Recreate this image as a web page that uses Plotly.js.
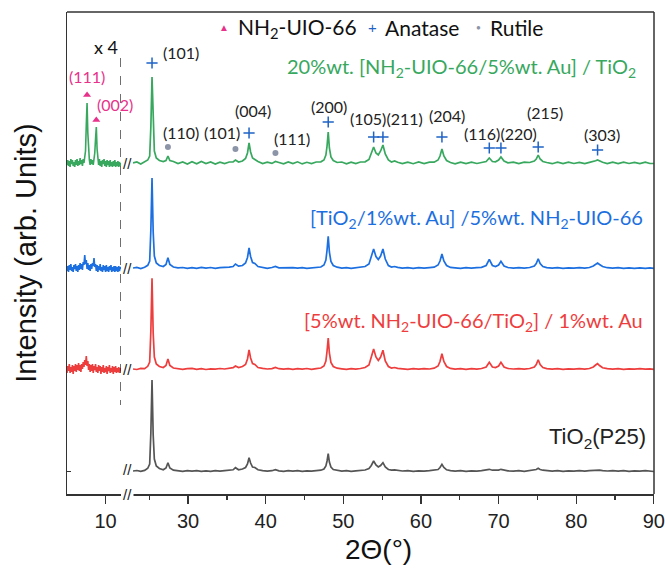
<!DOCTYPE html>
<html><head><meta charset="utf-8">
<script src="https://cdn.plot.ly/plotly-3.0.1.min.js"></script>
<style>html,body{margin:0;padding:0;background:#fff}#chart{width:665px;height:569px}</style>
</head><body><div id="chart"></div>
<script>
// ---------- data ----------
const seriesNames = ['TiO<sub>2</sub>(P25)', '[5%wt. NH<sub>2</sub>-UIO-66/TiO<sub>2</sub>] / 1%wt. Au', '[TiO<sub>2</sub>/1%wt. Au] /5%wt. NH<sub>2</sub>-UIO-66', '20%wt. [NH<sub>2</sub>-UIO-66/5%wt. Au] / TiO<sub>2</sub>'];

// low-angle segment (5-12 deg, intensity x4)
const xLeft = [5.0,5.1,5.2,5.3,5.4,5.5,5.6,5.7,5.8,5.9,6.0,6.1,6.2,6.3,6.4,6.5,6.6,6.7,6.8,6.9,7.0,7.1,7.2,7.3,7.4,7.5,7.6,7.7,7.8,7.9,8.0,8.1,8.2,8.3,8.4,8.5,8.6,8.7,8.8,8.9,9.0,9.1,9.2,9.3,9.4,9.5,9.6,9.7,9.8,9.9,10.0,10.1,10.2,10.3,10.4,10.5,10.6,10.7,10.8,10.9,11.0,11.1,11.2,11.3,11.4,11.5,11.6,11.7,11.8,11.9,12.0];
const greenLeft = [-2,3,-3,2,-4,4,-1,3,-3,1, -4,3,-2,4,-3,2,-2,5,-1,3, -3,4,0,5,12,38,60,30,8,3, -2,4,-1,3,-2,4,10,24,36,14, 3,-2,4,-3,2,-4,3,-1,4,-3, 2,-4,3,-2,2,-4,3,-3,1,-4, 2,-3,3,-4,1,-3,2,-4,1,-3, 0];
const blueLeft = [-3,2,-4,3,-2,4,-3,1,-4,3, -1,4,-3,2,-4,3,-2,5,-1,4, -2,6,3,13,4,8,-1,5,-2,3, -3,4,-1,5,2,10,1,4,-3,3, -4,2,-2,4,-3,1,-4,3,-2,2, -4,3,-3,1,-4,2,-2,3,-4,1, -3,2,-4,2,-3,1,-4,2,-3,1, -1];
const redLeft = [-4,3,-2,5,-4,2,-3,4,-5,3, -2,5,-3,4,-1,6,-2,4,-3,5, 0,7,2,9,4,13,3,8,-1,5, -3,4,-2,5,-4,3,-1,5,-3,2, -4,4,-2,3,-5,2,-3,4,-4,1, -3,3,-5,2,-2,4,-4,1,-3,3, -5,2,-3,3,-4,1,-3,2,-4,1, -2];

// main segment (22.9-90 deg)
const xRight = [22.9,23.4,23.9,24.4,24.8,25.05,25.2,25.35,25.5,25.65,
 25.9,26.3,26.8,27.15,27.4,27.65,28.1,28.7,29.3,29.9,
 30.5,31.1,31.7,32.3,32.9,33.5,34.1,34.7,35.3,35.8,
 36.1,36.5,37.0,37.4,37.65,37.85,38.05,38.3,38.6,39.0,
 39.6,40.2,40.8,41.25,41.7,42.3,42.9,43.5,44.1,44.7,
 45.3,45.9,46.5,47.1,47.5,47.75,47.9,48.05,48.2,48.4,
 48.7,49.2,49.8,50.4,51.0,51.6,52.2,52.8,53.3,53.6,
 53.9,54.2,54.5,54.8,55.1,55.4,55.8,56.2,56.6,57.0,
 57.6,58.3,59.0,59.7,60.4,61.1,61.7,62.2,62.45,62.7,
 62.95,63.3,63.8,64.4,65.1,65.8,66.5,67.2,67.8,68.4,
 68.8,69.2,69.6,70.0,70.3,70.7,71.2,71.9,72.6,73.3,
 74.0,74.6,74.85,75.1,75.35,75.7,76.2,76.9,77.6,78.3,
 79.0,79.7,80.4,81.1,81.7,82.2,82.5,82.75,83.0,83.4,
 84.0,84.7,85.4,86.1,86.8,87.5,88.2,88.9,89.5,90.0];
const grayRight = [0,0.5,-0.4,0.6,2.7,7,38,91,36,12,
 5,2.5,1.2,3,8.3,3,0.8,0.3,-0.3,0.4,
 -0.2,0.3,-0.4,0.2,-0.3,0.4,-0.2,0.3,0.5,1.2,
 3.3,1.2,2,3.5,7,13.3,8,4,3.5,1.2,
 0.3,-0.2,0.3,1.3,0.2,-0.3,0.3,-0.2,0.4,-0.3,
 0.2,-0.2,0.4,0.8,2,5,10,17.3,9,4,
 1.5,0.5,-0.2,0.3,-0.3,0.2,0.4,1,2.5,5.5,
 10,6,4,5.5,8.3,4,1.5,0.8,1.2,0.5,
 0,0.3,-0.3,0.2,-0.2,0.3,0.6,1.5,3.5,6.7,
 3.5,1.2,0.3,-0.2,0.3,-0.3,0.2,-0.2,0.3,0.8,
 1.7,0.8,0.5,0.9,1.7,0.7,0.2,-0.2,0.3,-0.3,
 0.3,0.8,1.5,2.7,1.5,0.8,0.2,-0.2,0.3,-0.3,
 0.2,-0.2,0.3,-0.2,0.3,0.6,1,1.3,0.9,0.4,
 0,0.3,-0.2,0.3,-0.3,0.2,-0.2,0.3,-0.3,-0.5];
const redRight = [0,-0.5,0.6,0.3,2.7,7,38,90.7,36,12,
 5,2.5,1.5,3.5,10,3.5,1,0.5,-0.4,0.3,
 0.6,-0.3,0.4,-0.5,0.2,-0.2,0.5,0,0.6,1.3,
 3,1.5,2.5,4.5,10,19,11,5.5,4.5,1.5,
 0.6,0,0.4,1.5,0.3,-0.2,0.4,-0.4,0.3,-0.2,
 0.5,-0.3,0.4,1,3,8,18,31,16,6.5,
 2.5,0.8,0.2,-0.3,0.4,-0.2,0.5,1.5,4,11,
 20,12,8.5,12,18.7,8,2.5,1,1.5,0.6,
 0.3,-0.3,0.3,-0.2,0.4,0,0.8,3,7.5,15.3,
 7.5,2.5,0.6,-0.2,0.3,-0.3,0.4,-0.2,0.5,2,
 6.7,2,1.5,3,6.7,2,0.5,0,0.3,-0.2,
 0.5,2,4.5,9.3,4.5,1.5,0.4,-0.2,0.3,-0.3,
 0.2,-0.2,0.3,-0.2,0.5,2,4,5.3,3.5,1.2,
 0.3,-0.2,0.3,-0.3,0.2,-0.2,0.3,-0.2,0.2,-0.3];
const blueRight = [0,0.6,-0.5,0.7,2.7,7,38,90,36,12,
 5,2.5,1.5,3.5,10.3,3.5,1,0.2,0.5,-0.4,
 0.4,-0.3,0.6,-0.2,0.5,-0.4,0.3,0.2,0.8,1.5,
 4,1.8,2.5,5,10.5,20,11.5,5.5,4.5,1.5,
 0.4,-0.3,0.5,1.5,0.2,0.3,-0.3,0.4,-0.2,0.3,
 -0.4,0.2,0.5,1,3,8,18,31.7,16,6.5,
 2.5,0.8,-0.2,0.4,-0.3,0.3,0.5,1.5,4,10.5,
 19,11.5,8.5,12,19,9,2.5,1,1.5,0.6,
 -0.2,0.3,-0.3,0.4,-0.2,0.3,0.8,3,7,14,
 7,2.5,0.6,0.2,-0.3,0.3,-0.2,0.3,0.6,2.5,
 8.7,2.5,1.5,3,6.7,2,0.5,-0.2,0.3,-0.2,
 0.5,2,4.5,9.3,4.5,1.5,0.4,-0.2,0.3,-0.3,
 0.2,-0.2,0.3,-0.2,0.5,2,4,5,3.5,1.5,
 0.3,-0.2,0.3,-0.3,0.2,-0.3,0.2,-0.3,0.2,-0.4];
const greenRight = [0,1,-1,1.5,3,7,36,86,34,12,
 5,2.5,1.5,2.5,7,2.5,1.5,-0.5,1,-1,
 1.2,-0.8,1.5,-0.6,1,-1,0.8,-0.5,1,1.2,
 3,1,2,4.5,10,20,11,5,3.5,1.5,
 -0.5,0.8,-0.4,1.5,0.5,-0.8,1,-0.6,1.2,-0.9,
 0.7,-0.5,1,1.2,3,8,17,31,15,6,
 2.5,0.5,1,-0.8,0.9,-0.6,1,1.2,3.5,9,
 16,10,8,12,18,9,3,1,2,0.8,
 -0.6,0.9,-0.7,1,-0.5,0.8,0.8,3,7,14,
 7,2.5,0.5,-0.8,0.9,-0.6,0.8,-0.5,0.6,1.5,
 5,1.5,1.2,3,6,2,0.2,0.8,-0.6,0.8,
 0.5,2,4,8,4,1.5,0.5,-0.7,0.8,-0.6,
 0.9,-0.5,0.7,-0.6,0.6,1.2,2.2,3,2,0.8,
 -0.5,0.8,-0.6,0.9,-0.5,0.7,-0.6,0.8,-0.5,-0.5];

// reflection markers
const uioX = [7.6, 8.8];           const uioY = [376, 351];
const uioLabels = ['(111)', '(002)'];
const anataseX = [25.35, 37.85, 48.05, 53.9, 55.1, 62.7, 68.8, 70.3, 75.1, 82.75];
const anataseY = [408, 338, 349, 334, 334, 334, 323, 323, 324, 321];
const rutileX = [27.4, 36.1, 41.25];
const rutileY = [324, 322, 318];
const legendNames = ['NH<sub>2</sub>-UIO-66', 'Anatase', 'Rutile'];
const xTicks = [30, 40, 50, 60, 70, 80, 90];

// ---------- layout helpers ----------
const L = 67, R = 11, T = 12, B = 75, W = 665, H = 569;
const PW = W - L - R, PH = H - T - B;
const px = x => (x - L) / PW;
const py = y => (H - B - y) / PH;

const cGreen = '#37a85e', cBlue = '#1c6fe0', cRed = '#ee3d3d', cGray = '#555555';
const cMag = '#e8318a', cAna = '#1f63c6', cRut = '#8c95a8';
const offsets = [0, 102, 203, 308];
const colors = [cGray, cRed, cBlue, cGreen];
const rights = [grayRight, redRight, blueRight, greenRight];
const lefts = [null, redLeft, blueLeft, greenLeft];

const traces = [];
for (let i = 0; i < 4; i++) {
  if (lefts[i]) traces.push({x: xLeft, y: lefts[i].map(v => v + offsets[i]), xaxis: 'x', yaxis: 'y', mode: 'lines', line: {color: colors[i], width: 1.6}, showlegend: false, hoverinfo: 'skip'});
  traces.push({x: xRight, y: rights[i].map(v => v + offsets[i]), xaxis: 'x2', yaxis: 'y', mode: 'lines', line: {color: colors[i], width: 1.7}, name: seriesNames[i], showlegend: false});
}
traces.push({x: uioX, y: uioY, xaxis: 'x', yaxis: 'y', mode: 'markers', marker: {symbol: 'triangle-up', size: 7, color: cMag}, showlegend: false});
traces.push({x: anataseX, y: anataseY, xaxis: 'x2', yaxis: 'y', mode: 'markers', marker: {symbol: 'cross-thin', size: 8, line: {color: cAna, width: 1.5}}, showlegend: false});
traces.push({x: rutileX, y: rutileY, xaxis: 'x2', yaxis: 'y', mode: 'markers', marker: {symbol: 'circle', size: 6, color: cRut}, showlegend: false});

const lab = 'Lato, "Open Sans", sans-serif';
const ari = '"Liberation Sans", Arial, sans-serif';
const ann = [];
function A(text, x, y, o) { ann.push(Object.assign({text, x: px(x), y: py(y), xref: 'paper', yref: 'paper', showarrow: false, xanchor: 'center', yanchor: 'middle', font: {family: lab, size: 16, color: '#222'}}, o || {})); }

// legend row
A('▲', 224, 28, {font: {family: ari, size: 10, color: cMag}});
A(legendNames[0], 236, 28, {xanchor: 'left', font: {family: lab, size: 21, color: '#111'}});
A('+', 372, 27, {font: {family: ari, size: 15, color: cAna}});
A(legendNames[1], 383, 28, {xanchor: 'left', font: {family: lab, size: 21, color: '#111'}});
A('●', 478, 28, {font: {family: ari, size: 8, color: cRut}});
A(legendNames[2], 488, 28, {xanchor: 'left', font: {family: lab, size: 21, color: '#111'}});

// series labels
A(seriesNames[3], 638, 67, {xanchor: 'right', font: {family: lab, size: 20, color: cGreen}});
A(seriesNames[2], 645, 218, {xanchor: 'right', font: {family: lab, size: 20, color: cBlue}});
A(seriesNames[1], 645, 322, {xanchor: 'right', font: {family: lab, size: 20, color: cRed}});
A(seriesNames[0], 648, 438, {xanchor: 'right', font: {family: ari, size: 22, color: '#222'}});

// peak labels
A(uioLabels[0], 87, 77, {font: {family: lab, size: 16, color: cMag}});
A(uioLabels[1], 115, 104, {font: {family: lab, size: 16, color: cMag}});
A('(101)', 181, 52); A('(110)', 181, 132); A('(101)', 222, 132);
A('(004)', 253, 110); A('(111)', 292, 139); A('(200)', 329, 107);
A('(105)(211)', 386, 118); A('(204)', 447, 115); A('(116)(220)', 500, 133);
A('(215)', 545, 112); A('(303)', 602, 134);

// x4 and breaks
A('x 4', 106, 47, {font: {family: lab, size: 18, color: '#111'}});
[163, 268, 369, 469, 494].forEach(y => A('//', 127, y, {font: {family: ari, size: 15, color: '#222'}, bgcolor: y === 494 ? '#fff' : 'rgba(0,0,0,0)'}));

// x-axis title (placed as in the reference, slightly right of the plot centre)
A('2Θ(°)', 378, 549, {font: {family: ari, size: 28, color: '#111'}});

const layout = {
  width: W, height: H,
  margin: {l: L, r: R, t: T, b: B, pad: 0},
  paper_bgcolor: '#fff', plot_bgcolor: '#fff',
  showlegend: false,
  xaxis: {domain: [0, px(121)], range: [5, 12], anchor: 'y', showline: true, linecolor: '#333', linewidth: 1.5,
          ticks: 'outside', ticklen: 8, tickwidth: 1.3, tickcolor: '#333', tickmode: 'array', tickvals: [10], ticktext: ['10'],
          tickfont: {family: ari, size: 20, color: '#222'}, showgrid: false, zeroline: false},
  xaxis2: {domain: [px(133), 1], range: [22.9, 90.02], anchor: 'y', showline: true, linecolor: '#333', linewidth: 1.5,
          ticks: 'outside', ticklen: 8, tickwidth: 1.3, tickcolor: '#333', tickmode: 'array', tickvals: xTicks, ticktext: xTicks.map(String),
          ticklabeloverflow: 'allow',
          minor: {ticks: 'outside', ticklen: 4, tickwidth: 1.3, tickcolor: '#333', tickmode: 'linear', tick0: 25, dtick: 10},
          tickfont: {family: ari, size: 20, color: '#222'}, showgrid: false, zeroline: false},
  yaxis: {domain: [0, 1], range: [-23, 459], anchor: 'x', showline: true, linecolor: '#333', linewidth: 1.5,
          ticks: 'inside', ticklen: 4, tickcolor: '#333', tickmode: 'array', tickvals: [0], showticklabels: false,
          showgrid: false, zeroline: false,
          title: {text: 'Intensity (arb. Units)', standoff: 20, font: {family: ari, size: 29, color: '#111'}}},
  shapes: [
    {type: 'line', xref: 'paper', yref: 'paper', x0: 0, x1: 1, y0: 1, y1: 1, line: {color: '#333', width: 1.5}},
    {type: 'line', xref: 'paper', yref: 'paper', x0: 1, x1: 1, y0: 0, y1: 1, line: {color: '#333', width: 1.5}},
    {type: 'line', xref: 'x', yref: 'paper', x0: 12, x1: 12, y0: py(58), y1: py(405), line: {color: '#222', width: 1.3, dash: 'dash'}}
  ],
  annotations: ann
};
Plotly.newPlot('chart', traces, layout, {displayModeBar: false, staticPlot: true});
</script>
</body></html>
